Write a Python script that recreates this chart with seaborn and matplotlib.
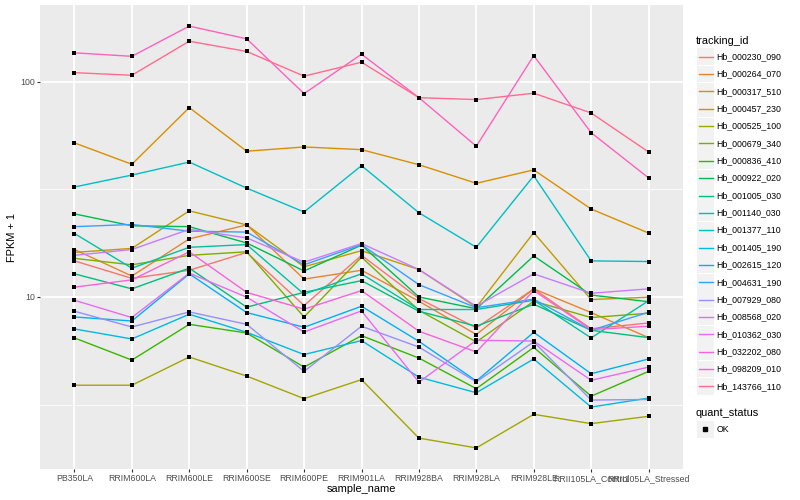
import numpy as np
import pandas as pd
import matplotlib
matplotlib.use("Agg")
import matplotlib.pyplot as plt
import seaborn as sns
from matplotlib.lines import Line2D
from matplotlib.patches import Rectangle

samples = ["PB350LA", "RRIM600LA", "RRIM600LE", "RRIM600SE", "RRIM600PE", "RRIM901LA",
           "RRIM928BA", "RRIM928LA", "RRIM928LE", "RRII105LA_Control", "RRII105LA_Stressed"]

tracking_ids = ["Hb_000230_090", "Hb_000264_070", "Hb_000317_510", "Hb_000457_230",
                "Hb_000525_100", "Hb_000679_340", "Hb_000836_410", "Hb_000922_020",
                "Hb_001005_030", "Hb_001140_030", "Hb_001377_110", "Hb_001405_190",
                "Hb_002615_120", "Hb_004631_190", "Hb_007929_080", "Hb_008568_020",
                "Hb_010362_030", "Hb_032202_080", "Hb_098209_010", "Hb_143766_110"]

# FPKM + 1 values per gene, one per sample
hb_000230_090 = [14.7, 12.2, 13.3, 16.1, 9.12, 15.6, 9.83, 7.18, 10.9, 7.11, 7.57]
hb_000264_070 = [16.6, 12.5, 18.6, 21.6, 12.1, 13.3, 9.55, 6.69, 10.9, 8.46, 6.47]
hb_000317_510 = [51.9, 41.3, 75.7, 47.5, 49.7, 48.3, 41.1, 33.7, 38.9, 25.6, 19.8]
hb_000457_230 = [16.1, 16.8, 25.1, 21.6, 13.8, 16.4, 13.4, 8.96, 19.9, 9.72, 9.97]
hb_000525_100 = [3.89, 3.89, 5.26, 4.29, 3.37, 4.13, 2.21, 1.99, 2.85, 2.58, 2.79]
hb_000679_340 = [15.1, 14.1, 15.6, 16.2, 8.07, 15.3, 8.67, 6.18, 9.55, 8.02, 8.40]
hb_000836_410 = [6.45, 5.09, 7.46, 6.80, 4.72, 6.61, 5.20, 3.75, 5.83, 3.46, 4.51]
hb_000922_020 = [24.3, 21.4, 21.2, 17.8, 13.2, 17.4, 10.0, 8.81, 15.5, 10.2, 9.50]
hb_001005_030 = [12.8, 10.9, 13.6, 8.96, 10.5, 11.9, 8.58, 7.31, 9.25, 7.00, 6.47]
hb_001140_030 = [19.7, 13.6, 17.0, 17.5, 10.3, 12.8, 8.74, 8.74, 9.65, 6.45, 9.60]
hb_001377_110 = [32.4, 36.8, 42.3, 32.0, 24.8, 40.7, 24.6, 17.0, 36.5, 14.7, 14.6]
hb_001405_190 = [7.10, 6.38, 8.31, 6.85, 5.40, 6.27, 4.24, 3.59, 5.15, 3.08, 3.39]
hb_002615_120 = [8.07, 7.73, 12.8, 8.46, 7.23, 9.05, 6.22, 4.07, 6.85, 4.40, 5.15]
hb_004631_190 = [21.2, 21.7, 20.2, 20.0, 14.1, 17.5, 11.4, 8.91, 9.76, 7.00, 8.49]
hb_007929_080 = [8.58, 7.25, 8.52, 7.46, 4.51, 7.31, 5.85, 4.03, 6.19, 3.32, 3.34]
hb_008568_020 = [15.6, 16.6, 20.6, 18.8, 14.5, 17.7, 13.4, 9.05, 12.8, 10.4, 10.9]
hb_010362_030 = [9.65, 8.02, 12.9, 9.97, 6.87, 8.61, 4.02, 6.29, 6.24, 4.10, 4.72]
hb_032202_080 = [11.1, 12.0, 16.2, 10.5, 8.77, 10.7, 6.93, 5.55, 10.7, 7.05, 7.31]
hb_098209_010 = [136.0, 131.0, 181.0, 158.0, 87.9, 134.0, 84.2, 50.1, 132.0, 57.9, 35.7]
hb_143766_110 = [110.0, 107.0, 154.0, 138.0, 106.0, 123.0, 84.2, 82.5, 88.3, 71.5, 47.1]

series = [hb_000230_090, hb_000264_070, hb_000317_510, hb_000457_230, hb_000525_100,
          hb_000679_340, hb_000836_410, hb_000922_020, hb_001005_030, hb_001140_030,
          hb_001377_110, hb_001405_190, hb_002615_120, hb_004631_190, hb_007929_080,
          hb_008568_020, hb_010362_030, hb_032202_080, hb_098209_010, hb_143766_110]

colors = ["#F8766D", "#EA8331", "#D89000", "#C09B00", "#A3A500", "#7CAE00", "#39B600",
          "#00BB4E", "#00BF7D", "#00C1A3", "#00BFC4", "#00BAE0", "#00B0F6", "#35A2FF",
          "#9590FF", "#C77CFF", "#E76BF3", "#FA62DB", "#FF62BC", "#FF6C91"]

rows = []
for tid, vals in zip(tracking_ids, series):
    for i, (s, v) in enumerate(zip(samples, vals)):
        rows.append({"tracking_id": tid, "sample_name": s, "pos": i, "fpkm": v})
df = pd.DataFrame(rows)

FONT = ["Liberation Sans", "DejaVu Sans"]
plt.rcParams["font.family"] = FONT

W, H = 800, 500
fig = plt.figure(figsize=(8, 5), dpi=100)
ax = fig.add_axes([40 / W, 1 - 469 / H, (683 - 40) / W, (469 - 5) / H])
ax.set_facecolor("#EBEBEB")

sns.lineplot(data=df, x="pos", y="fpkm", hue="tracking_id", hue_order=tracking_ids,
             palette=colors, estimator=None, sort=False, legend=False, lw=1.0, ax=ax)
sns.scatterplot(data=df, x="pos", y="fpkm", color="black", marker="s", s=7,
                linewidth=0, legend=False, ax=ax, zorder=5)

ax.set_yscale("log")
ax.set_xticks(range(len(samples)))
ax.set_xticklabels(samples)
ax.set_yticks([10, 100])
ax.set_yticklabels(["10", "100"])
ax.set_yticks([10 ** 0.5, 10 ** 1.5], minor=True)
ax.yaxis.set_minor_formatter(matplotlib.ticker.NullFormatter())

lo, hi = np.log10(df["fpkm"].min()), np.log10(df["fpkm"].max())
pad = 0.05 * (hi - lo)
ax.set_ylim(10 ** (lo - pad), 10 ** (hi + pad))
ax.set_xlim(-0.6, len(samples) - 0.4)

ax.tick_params(axis="both", which="major", length=2.0, width=0.8, color="#333333",
               labelsize=6.3, labelcolor="#4D4D4D", pad=1.6)
ax.tick_params(axis="both", which="minor", length=0)

ax.set_axisbelow(True)
ax.grid(which="major", color="white", lw=1.3)
ax.grid(which="minor", axis="y", color="white", lw=0.6)
ax.grid(which="minor", axis="x", visible=False)
for sp in ax.spines.values():
    sp.set_visible(False)

ax.set_xlabel("sample_name", fontsize=7.9, color="black")
ax.set_ylabel("FPKM + 1", fontsize=7.9, color="black")
ax.xaxis.set_label_coords(0.5, -(489 - 469) / (469 - 5), transform=ax.transAxes)
ax.xaxis.label.set_va("center")
ax.yaxis.set_label_coords(-(40 - 12) / (683 - 40), 0.5)
ax.yaxis.label.set_va("center")


def fx(x):
    return x / W


def fy(y):
    return 1 - y / H


# legend: tracking_id
fig.text(fx(696), fy(40.7), "tracking_id", fontsize=7.9, va="center", ha="left")
for i, (tid, col) in enumerate(zip(tracking_ids, colors)):
    yc = 56.7 + i * 17.35
    fig.patches.append(Rectangle((fx(697), fy(yc + 8.4)), 16.8 / W, 16.8 / H,
                                 transform=fig.transFigure, facecolor="#F2F2F2",
                                 edgecolor="none"))
    fig.add_artist(Line2D([fx(698.5), fx(712.5)], [fy(yc), fy(yc)], color=col, lw=1.0,
                          transform=fig.transFigure))
    fig.text(fx(716.5), fy(yc), tid, fontsize=6.3, va="center", ha="left")

# legend: quant_status
fig.text(fx(696), fy(412.7), "quant_status", fontsize=7.9, va="center", ha="left")
yc = 429.3
fig.patches.append(Rectangle((fx(697), fy(yc + 8.4)), 16.8 / W, 16.8 / H,
                             transform=fig.transFigure, facecolor="#F2F2F2",
                             edgecolor="none"))
fig.add_artist(Line2D([fx(705)], [fy(yc)], marker="s", markersize=2.6, color="black",
                      linestyle="none", transform=fig.transFigure))
fig.text(fx(716.5), fy(yc), "OK", fontsize=6.3, va="center", ha="left")

fig.savefig("out.png", dpi=100)
